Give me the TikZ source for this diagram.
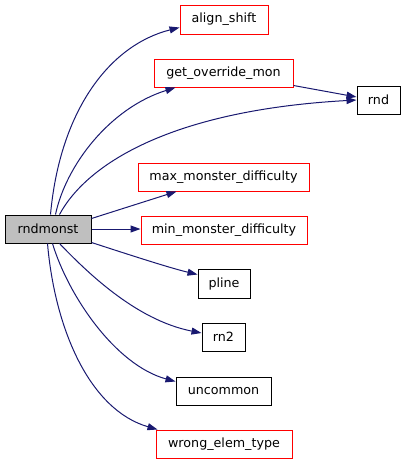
\documentclass[tikz,border=0pt]{standalone}
\usepackage{fontspec}
\setmainfont{DejaVu Sans}
\usetikzlibrary{arrows.meta,calc}
\definecolor{edgeblue}{HTML}{191970}
\definecolor{grayfill}{HTML}{BFBFBF}
\begin{document}
\begin{tikzpicture}[x=1pt,y=-1pt,
  box/.style={draw, line width=1pt, inner sep=0pt, font=\fontsize{12.7}{14}\selectfont, anchor=center},
  redbox/.style={box, draw=red},
  blackbox/.style={box, draw=black},
  edge/.style={draw=edgeblue, line width=1pt, -{Triangle[length=10pt,width=7pt]}, fill=none}]
\useasboundingbox (0,0) rectangle (405,464);
\node[blackbox, fill=grayfill, minimum width=86pt, minimum height=28pt] (rndmonst) at (48,229) {rndmonst};
\node[redbox, minimum width=88pt, minimum height=29pt] (align) at (224,19.5) {align\_shift};
\node[redbox, minimum width=139pt, minimum height=28pt] (getover) at (223.5,73) {get\_override\_mon};
\node[blackbox, minimum width=43pt, minimum height=28pt] (rnd) at (378.5,100) {rnd};
\node[redbox, minimum width=171pt, minimum height=28pt] (maxmd) at (223.5,177) {max\_monster\_difficulty};
\node[redbox, minimum width=166pt, minimum height=28pt] (minmd) at (224,230.5) {min\_monster\_difficulty};
\node[blackbox, minimum width=52pt, minimum height=29pt] (pline) at (224,283.5) {pline};
\node[blackbox, minimum width=43pt, minimum height=28pt] (rntwo) at (223.5,337) {rn2};
\node[blackbox, minimum width=95pt, minimum height=28pt] (uncommon) at (223.5,391) {uncommon};
\node[redbox, minimum width=136pt, minimum height=28pt] (wrong) at (224,444) {wrong\_elem\_type};

\draw[edge] ($(rndmonst.north west)+(46,0)$) .. controls (60,110) and (110,45) .. ($(align.south west)+(0,-7)$);
\draw[edge] ($(rndmonst.north west)+(51,0)$) .. controls (66,165) and (110,108) .. ($(getover.south west)+(22,0)$);
\draw[edge] ($(rndmonst.north west)+(55,0)$) .. controls (88,162) and (175,110) .. (rnd.west);
\draw[edge] ($(getover.south east)+(0,-2)$) -- ($(rnd.west)+(0,-3)$);
\draw[edge] ($(rndmonst.north east)+(0,4)$) -- ($(maxmd.south west)+(39,0)$);
\draw[edge] (rndmonst.east) -- (rndmonst.east -| minmd.west);
\draw[edge] ($(rndmonst.south east)+(0,-1)$) .. controls (130,255) and (170,268) .. ($(pline.north west)+(0,6)$);
\draw[edge] ($(rndmonst.south west)+(55,0)$) .. controls (85,270) and (135,320) .. ($(rntwo.west)+(0,-4)$);
\draw[edge] ($(rndmonst.south west)+(48,0)$) .. controls (68,295) and (115,365) .. ($(uncommon.north west)+(0,5)$);
\draw[edge] ($(rndmonst.south west)+(43,0)$) .. controls (55,330) and (90,410) .. ($(wrong.north west)+(2,0)$);
\end{tikzpicture}
\end{document}
